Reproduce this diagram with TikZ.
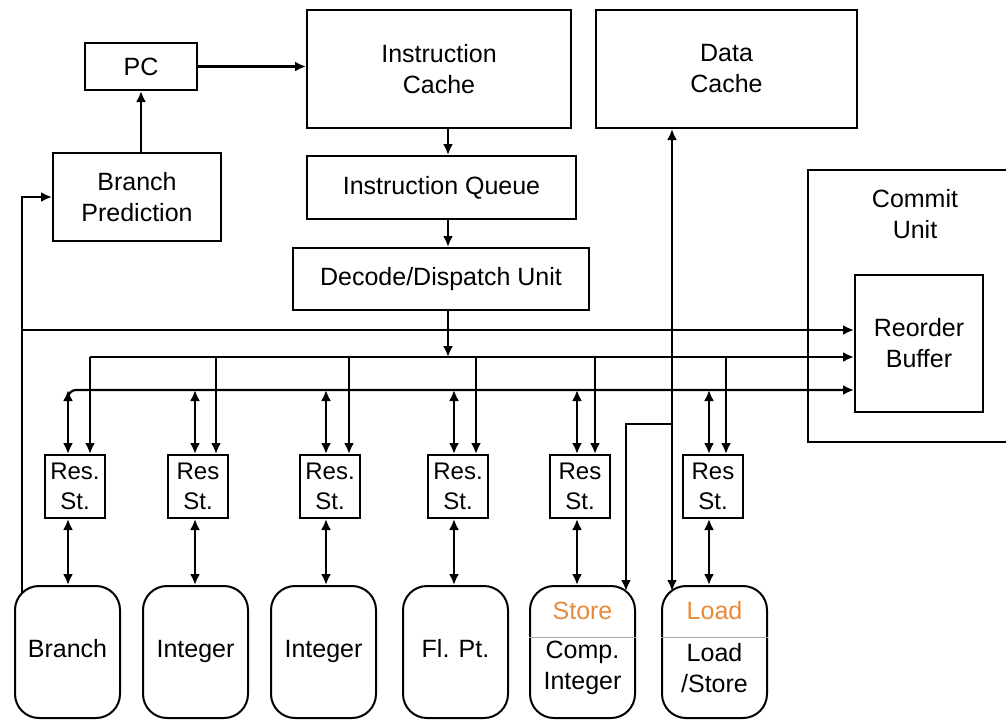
\documentclass[tikz,border=0pt]{standalone}
\usepackage{fontspec}
\setmainfont{Liberation Sans}
\usetikzlibrary{arrows.meta}

\definecolor{unitorange}{RGB}{232,138,58}

\begin{document}
\begin{tikzpicture}[x=1pt,y=-1pt,
    every node/.style={font=\fontsize{25}{31}\selectfont, align=center},
    box/.style={draw, line width=2pt, inner sep=0pt},
    res st/.style={box, minimum width=60pt, minimum height=63pt, font=\fontsize{24}{30}\selectfont},
    fu/.style={draw, line width=2pt, rounded corners=24pt, minimum width=105pt, minimum height=132pt},
    wire/.style={line width=2.2pt},
    >={Latex[length=11pt,width=10pt]}]
  \useasboundingbox (0,0) rectangle (1006,720);

  % fetch side
  \node[box, minimum width=112pt, minimum height=47pt] (pc) at (141,66.5) {PC};
  \node[box, minimum width=168pt, minimum height=88pt] (bp) at (137,197) {Branch\\Prediction};
  \node[box, minimum width=264pt, minimum height=118pt] (icache) at (439,69) {Instruction\\Cache};
  \node[box, minimum width=269pt, minimum height=63pt] (iqueue) at (441.5,187.5) {Instruction Queue};
  \node[box, minimum width=296pt, minimum height=62pt] (decode) at (441,279) {Decode/Dispatch Unit};
  \node[box, minimum width=261pt, minimum height=118pt] (dcache) at (726.5,69) {Data\\Cache};

  % commit side
  \node (commit) at (915,214) {Commit\\Unit};
  \draw[line width=2pt] (1006,170) -| (808,442) -- (1006,442);
  \node[box, minimum width=128pt, minimum height=137pt] (rob) at (919,343.5) {Reorder\\Buffer};

  % reservation stations and functional units
  \foreach \i/\x/\t in {1/75/Res.,2/198/Res,3/330/Res.,4/458/Res.,5/580/Res,6/713/Res}
    \node[res st] (rs\i) at (\x,486.5) {\t\\St.};

  \node[fu] (fu1) at (67.5,652) {\raisebox{7pt}{Branch}};
  \node[fu] (fu2) at (195.5,652) {\raisebox{7pt}{Integer}};
  \node[fu] (fu3) at (323.5,652) {\raisebox{7pt}{Integer}};
  \node[fu] (fu4) at (455.5,652) {\raisebox{7pt}{Fl. Pt.}};
  \node[fu] (fu5) at (582.5,652) {};
  \node[fu] (fu6) at (714.5,652) {};
  \draw[line width=1pt, gray!70] (fu5.west |- 0,637) -- (fu5.east |- 0,637);
  \draw[line width=1pt, gray!70] (fu6.west |- 0,637) -- (fu6.east |- 0,637);
  \node[text=unitorange] (store) at (582.5,611) {Store};
  \node (comp) at (582.5,668) {Comp.\\Integer};
  \node[text=unitorange] (load) at (714.5,611) {Load};
  \node (ldst) at (714.5,668) {Load\\/Store};

  % wiring
  \coordinate (spine) at (448,0);
  \coordinate (busa) at (22,330);
  \coordinate (busb) at (90,357);
  \coordinate (busc) at (68,390);
  \coordinate (brout) at (22,593);
  \coordinate (ldin) at (672,591);
  \coordinate (stin) at (626,591);

  \draw[wire,->] (bp.north -| pc) -- (pc.south);
  \draw[wire,->] (pc) -- (icache.west |- pc);
  \draw[wire,->] (icache.south -| spine) -- (iqueue.north -| spine);
  \draw[wire,->] (iqueue.south -| spine) -- (decode.north -| spine);
  \draw[wire,->] (decode.south -| spine) -- (spine |- busb);

  \draw[wire,->] (brout) |- (bp.west);
  \draw[wire,->] (busa) -- (rob.west |- busa);
  \draw[wire,->] (busb) -- (rob.west |- busb);
  \draw[wire,->,rounded corners=8pt] (68,398) |- (rob.west |- busc);

  \foreach \i/\l/\r in {1/68/90,2/195/216,3/326/349,4/454/476,5/577/595,6/709/726} {
    \draw[wire,->] (\r,357) -- (rs\i.north -| \r,0);
    \draw[wire,<->] (\l,390) -- (rs\i.north -| \l,0);
    \draw[wire,<->] (rs\i.south -| \l,0) -- (fu\i.north -| \l,0);
  }

  \draw[wire,<->] (dcache.south -| ldin) -- (ldin);
  \draw[wire,->] (ldin |- 0,424) -| (stin);
\end{tikzpicture}
\end{document}
